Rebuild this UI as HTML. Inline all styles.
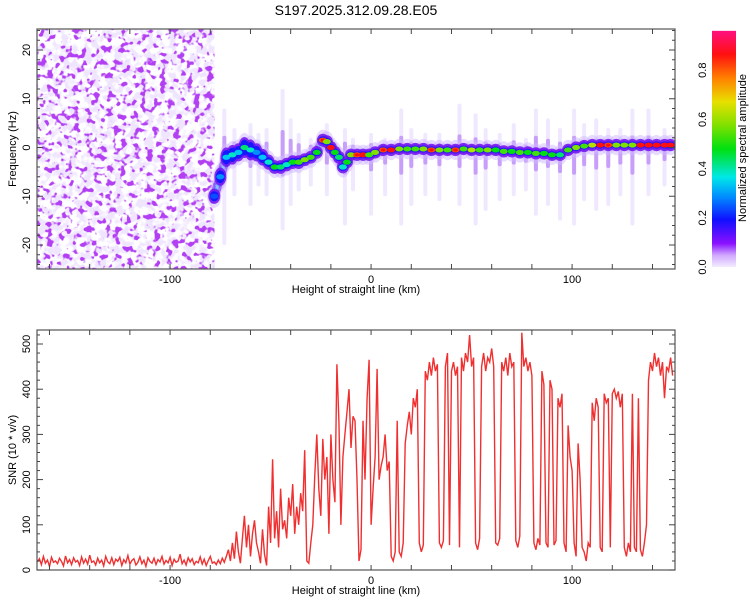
<!DOCTYPE html>
<html><head><meta charset="utf-8">
<style>
body{margin:0;background:#fff;}
svg{display:block;font-family:"Liberation Sans",sans-serif;}
</style></head>
<body>
<svg id="chart" width="750" height="600" viewBox="0 0 750 600" xmlns="http://www.w3.org/2000/svg">
<defs>
<filter id="noiseLight" x="0" y="0" width="100%" height="100%">
<feTurbulence type="fractalNoise" baseFrequency="0.13" numOctaves="2" seed="4" result="t"/>
<feColorMatrix in="t" type="matrix" values="0 0 0 0 0.86  0 0 0 0 0.78  0 0 0 0 1  6 0 0 0 -2.6"/>
</filter>
<filter id="noiseDark" x="0" y="0" width="100%" height="100%">
<feTurbulence type="fractalNoise" baseFrequency="0.15" numOctaves="2" seed="11" result="t"/>
<feColorMatrix in="t" type="matrix" values="0 0 0 0 0.45  0 0 0 0 0.05  0 0 0 0 0.9  10 0 0 0 -5.6"/>
</filter>
<clipPath id="clipTop"><rect x="37" y="29" width="638" height="240"/></clipPath>
<clipPath id="clipBot"><rect x="37" y="330" width="638" height="240"/></clipPath>
<linearGradient id="cbGrad" x1="0" y1="1" x2="0" y2="0">
<stop offset="0" stop-color="#f4ecff"/>
<stop offset="0.05" stop-color="#d0a8ff"/>
<stop offset="0.1" stop-color="#8a10ff"/>
<stop offset="0.2" stop-color="#1010ff"/>
<stop offset="0.3" stop-color="#0090ff"/>
<stop offset="0.38" stop-color="#00e8e8"/>
<stop offset="0.5" stop-color="#00e010"/>
<stop offset="0.6" stop-color="#80e000"/>
<stop offset="0.7" stop-color="#e8e000"/>
<stop offset="0.8" stop-color="#ff8000"/>
<stop offset="0.9" stop-color="#ff1010"/>
<stop offset="1" stop-color="#ff1080"/>
</linearGradient>
</defs>
<text x="356" y="15" font-size="14" text-anchor="middle" fill="#000">S197.2025.312.09.28.E05</text>
<g id="topPanel"></g>
<g id="botPanel"></g>
<g id="cbPanel"></g>
</svg>
<script>
// ---- data ----
const ridgeKm = [-78,-75,-72,-69,-66,-63,-60,-57,-54,-51,-48,-45,-42,-39,-36,-33,-30,-27,-24,-22,-20,-18,-16,-14,-12,-10,-7,-4,-1,2,6,10,14,18,22,26,30,34,38,42,46,50,54,58,62,66,70,74,78,82,86,90,94,98,102,106,110,114,118,122,126,130,134,138,142,146,149];
const ridgeHz = [-10,-6,-2,-1.5,-1,0,-0.5,-1,-2,-3,-4,-4,-3.5,-3,-3,-2.5,-2,-1,1.5,1.2,0,-1,-2,-4,-3,-1.5,-1.5,-1.5,-1.5,-1,-0.5,-0.5,-0.3,-0.3,-0.3,-0.3,-0.5,-0.5,-0.5,-0.5,-0.3,-0.5,-0.5,-0.5,-0.5,-0.8,-0.8,-1,-1,-1.2,-1.2,-1.5,-1.5,-0.5,0,0.3,0.5,0.5,0.5,0.5,0.5,0.5,0.5,0.5,0.5,0.5,0.5];
const ridgeAmp = [0.25,0.3,0.35,0.4,0.35,0.45,0.4,0.3,0.35,0.4,0.5,0.45,0.4,0.5,0.55,0.6,0.55,0.5,0.85,0.6,0.9,0.5,0.45,0.4,0.5,0.6,0.85,0.9,0.55,0.6,0.85,0.9,0.6,0.55,0.55,0.6,0.85,0.6,0.55,0.85,0.55,0.65,0.55,0.6,0.5,0.55,0.5,0.55,0.5,0.55,0.5,0.5,0.45,0.55,0.6,0.55,0.65,0.9,0.85,0.6,0.6,0.6,0.9,0.9,0.9,0.9,0.9];
const ridgeSpreadHz = [2,3,3.5,3.5,3,4,4,3,2.5,2,1.5,1.5,1.5,1.5,1.5,1.2,1.2,1.2,1.2,1.2,1.2,1.2,1.2,1.2,1,1,1,1,1,1,1,1,1,1,1,1,1,1,1,1,1,1,1,1,1,1,1,1,1,1,1,1,1,1,1,1,1,1,1,1,1,1,1,1,1,1,1];
const streakKm = [-73,-68,-60,-56,-52,-44,-40,-36,-30,-22,-13,-9,0,7,15,20,27,34,44,52,57,64,71,77,82,88,94,101,106,112,118,124,130,138,146];
const streakTopHz = [8,4,5,3,4,12,6,3,2,5,4,2,3,2,8,4,3,3,9,7,4,3,5,2,8,6,4,8,5,6,4,4,8,8,4];
const streakBotHz = [-20,-10,-12,-8,-10,-17,-12,-9,-8,-10,-16,-9,-14,-10,-16,-12,-10,-11,-12,-16,-13,-11,-10,-9,-14,-12,-15,-16,-11,-13,-12,-10,-16,-10,-8];
const snrStartKm = -166;
const snrVals = [
18,25,12,30,15,22,8,28,17,20,
14,26,19,9,31,16,23,12,27,18,
21,10,29,15,24,13,33,17,20,11,
26,16,22,9,30,18,14,27,12,24,
19,28,10,23,16,32,13,21,25,11,
17,29,14,22,8,27,19,15,26,12,
23,18,30,13,21,16,28,10,24,17,
20,35,14,22,11,27,18,25,12,19,
16,29,13,24,10,21,30,15,18,12,
22,14,26,17,
30,45,20,60,25,85,40,15,70,120,
50,100,30,80,110,60,40,15,90,35,
10,140,60,245,70,130,50,180,90,110,
70,160,120,190,80,140,100,170,130,265,
20,15,60,100,210,300,180,120,290,200,
250,80,300,200,150,455,330,100,250,300,
350,400,270,340,330,200,20,45,330,200,
380,465,
100,180,250,445,200,230,250,300,220,240,
30,20,40,330,40,30,60,280,320,350,
300,380,360,400,60,40,55,440,420,460,
430,470,440,455,60,50,65,450,480,55,
440,460,430,450,50,470,440,480,460,520,
450,470,60,45,70,450,480,440,470,460,
490,450,60,55,70,460,440,470,430,480,
450,460,65,50,75,525,450,470,440,460,
430,60,45,70,55,440,410,60,50,420,
400,55,65,380,360,390,60,40,320,250,
220,60,30,280,200,50,40,20,60,50,
370,330,380,360,50,40,390,370,380,50,
390,400,380,395,360,390,50,30,60,40,
390,50,40,380,45,30,60,100,420,460,
440,480,450,470,430,460,380,450,440,470,430];
const xTicks = [-160,-140,-120,-100,-80,-60,-40,-20,0,20,40,60,80,100,120,140];
const xLabels = [-100,0,100];
const hzLabels = [-20,-10,0,10,20];
const snrLabels = [0,100,200,300,400,500];
const cbLabels = [0.0,0.2,0.4,0.6,0.8];

// ---- scales ----
const L=37,R=675;
const xMin=-166.2,xMax=151.2;
const X = km => L + (km - xMin)/(xMax - xMin)*(R-L);
const Yt = hz => 147.5 - hz*4.875;
const Yb = v => 570 - v*0.452;
const Ycb = v => 267 - v*246;
const NS="http://www.w3.org/2000/svg";
function mk(tag, attrs, parent){const e=document.createElementNS(NS,tag);for(const k in attrs)e.setAttribute(k,attrs[k]);parent.appendChild(e);return e;}
function cmap(v){
  const stops=[[0,[244,236,255]],[0.1,[138,16,255]],[0.2,[16,16,255]],[0.3,[0,144,255]],[0.38,[0,232,232]],[0.5,[0,224,16]],[0.6,[128,224,0]],[0.7,[232,224,0]],[0.8,[255,128,0]],[0.9,[255,16,16]],[1,[255,16,128]]];
  for(let i=1;i<stops.length;i++){if(v<=stops[i][0]){const a=stops[i-1],b=stops[i];const t=(v-a[0])/(b[0]-a[0]);const c=a[1].map((x,j)=>Math.round(x+(b[1][j]-x)*t));return `rgb(${c[0]},${c[1]},${c[2]})`;}}
  return 'rgb(255,16,128)';
}

const topG=document.getElementById('topPanel');
const botG=document.getElementById('botPanel');
const cbG=document.getElementById('cbPanel');

// ---- spectrogram ----
const tg=mk('g',{'clip-path':'url(#clipTop)'},topG);
const nz=mk('rect',{x:37,y:29,width:X(-78)-37,height:240,filter:'url(#noiseLight)'},tg);


const nz2=mk('rect',{x:37,y:29,width:X(-78)-37,height:240,filter:'url(#noiseDark)'},tg);


streakKm.forEach((k,i)=>{
  const r=mk('rect',{x:X(k)-2,y:Yt(streakTopHz[i]),width:4,height:Yt(streakBotHz[i])-Yt(streakTopHz[i]),fill:'#d4bcff',opacity:0.35,rx:2},tg);
  
  
  const r2=mk('rect',{x:X(k)-2,y:Yt(streakTopHz[i]*0.3),width:4,height:Yt(streakBotHz[i]*0.35)-Yt(streakTopHz[i]*0.3),fill:'#8a30f0',opacity:0.4,rx:2},tg);
  
  
});
let d='';
ridgeKm.forEach((k,i)=>{d+=(i?'L':'M')+X(k).toFixed(1)+','+Yt(ridgeHz[i]).toFixed(1);});
const layers=[['#d0b8ff',12,0.5],['#7010f0',9,0.9],['#1818ff',6,1],['#00b8ff',3,1]];
layers.forEach(([c,w,o])=>{
  const p=mk('path',{d:d,fill:'none',stroke:c,'stroke-width':w,'stroke-linejoin':'round','stroke-linecap':'round',opacity:o},tg);
  
  
});
const eLayers=[['#d0b8ff',3,7,0.5],['#7010f0',1.6,6,0.85],['#1818ff',0.7,4.5,1]];
eLayers.forEach(([c,extra,rx,o])=>{
  ridgeKm.forEach((k,i)=>{
    const e=mk('ellipse',{cx:X(k),cy:Yt(ridgeHz[i]),rx:rx,ry:(ridgeSpreadHz[i]*0.5+extra)*4.875*0.6,fill:c,opacity:o},tg);
    
    
  });
});
ridgeKm.forEach((k,i)=>{
  const e=mk('ellipse',{cx:X(k),cy:Yt(ridgeHz[i]),rx:4,ry:2.6,fill:cmap(ridgeAmp[i])},tg);
  
  
  if(ridgeAmp[i]>=0.8){
    const e2=mk('ellipse',{cx:X(k),cy:Yt(ridgeHz[i]),rx:2.2,ry:1.5,fill:cmap(0.9)},tg);
    
    
  }
});

// ---- axes helper ----
function frame(g,y0,y1,name){
  const f=mk('rect',{x:L,y:y0,width:R-L,height:y1-y0,fill:'none',stroke:'#555','stroke-width':1.2},g);
  
  
  xTicks.forEach(t=>{
    mk('line',{x1:X(t),x2:X(t),y1:y1,y2:y1-5,stroke:'#444'},g);
    mk('line',{x1:X(t),x2:X(t),y1:y0,y2:y0+5,stroke:'#444'},g);
  });
  xLabels.forEach(t=>{
    const tx=mk('text',{x:X(t),y:y1+14,'font-size':11,'text-anchor':'middle',fill:'#000'},g);
    tx.textContent=t;
    
    
  });
  const xl=mk('text',{x:356,y:y1+24,'font-size':11,'text-anchor':'middle',fill:'#000'},g);
  xl.textContent='Height of straight line (km)';
  
  
}
frame(topG,29,269,'spectrogram');
for(let hz=-24;hz<=24;hz+=2){
  const len=(hz%10===0)?6:3;
  mk('line',{x1:L,x2:L+len,y1:Yt(hz),y2:Yt(hz),stroke:'#444'},topG);
  mk('line',{x1:R,x2:R-len,y1:Yt(hz),y2:Yt(hz),stroke:'#444'},topG);
}
hzLabels.forEach(h=>{
  const t=mk('text',{x:0,y:0,'font-size':11,'text-anchor':'middle',transform:`translate(30,${Yt(h)}) rotate(-90)`},topG);
  t.textContent=h;
  
  
});
const yt=mk('text',{x:0,y:0,'font-size':11,'text-anchor':'middle',transform:'translate(16,149) rotate(-90)'},topG);
yt.textContent='Frequency (Hz)';



// ---- SNR ----
const bg=mk('g',{'clip-path':'url(#clipBot)'},botG);
let sd='';
snrVals.forEach((v,i)=>{sd+=(i?'L':'M')+X(snrStartKm+i).toFixed(1)+','+Yb(v).toFixed(1);});
const ln=mk('path',{d:sd,fill:'none',stroke:'#f03030','stroke-width':1.4},bg);


frame(botG,330,570,'snr');
for(let v=0;v<=520;v+=20){
  const len=(v%100===0)?6:3;
  mk('line',{x1:L,x2:L+len,y1:Yb(v),y2:Yb(v),stroke:'#444'},botG);
  mk('line',{x1:R,x2:R-len,y1:Yb(v),y2:Yb(v),stroke:'#444'},botG);
}
snrLabels.forEach(v=>{
  const t=mk('text',{x:0,y:0,'font-size':11,'text-anchor':'middle',transform:`translate(30,${Yb(v)}) rotate(-90)`},botG);
  t.textContent=v;
  
  
});
const yt2=mk('text',{x:0,y:0,'font-size':11,'text-anchor':'middle',transform:'translate(16,450) rotate(-90)'},botG);
yt2.textContent='SNR (10 * v/v)';



// ---- colorbar ----
const cbr=mk('rect',{x:712,y:Ycb(0.96),width:24,height:Ycb(0)-Ycb(0.96),fill:'url(#cbGrad)'},cbG);


cbLabels.forEach(v=>{
  const t=mk('text',{x:0,y:0,'font-size':11,'text-anchor':'middle',transform:`translate(706,${Ycb(v)}) rotate(-90)`},cbG);
  t.textContent=v.toFixed(1);
  
  
});
const ct=mk('text',{x:0,y:0,'font-size':11,'text-anchor':'middle',transform:'translate(746,148) rotate(-90)'},cbG);
ct.textContent='Normalized spectral amplitude';


</script>
</body></html>
